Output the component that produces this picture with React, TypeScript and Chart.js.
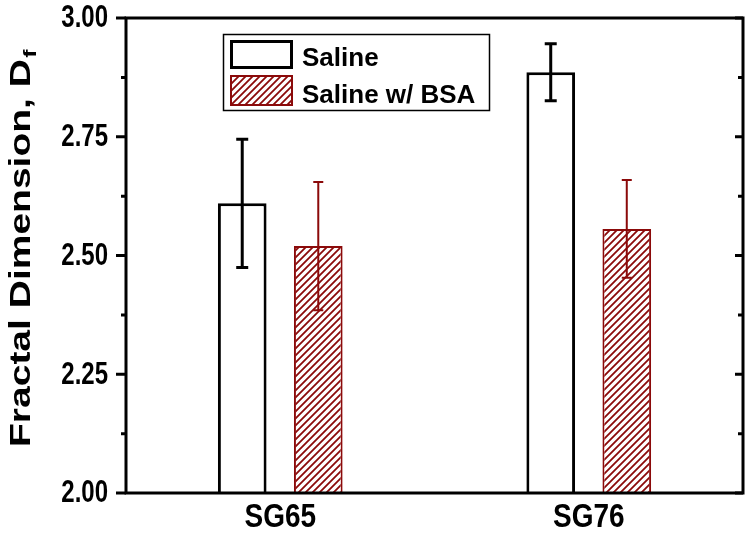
import React, { useEffect, useRef } from "react";
import { Chart, registerables } from "chart.js";

Chart.register(...registerables);

// ---- data ----
const categories = ["SG65", "SG76"];
const seriesNames = ["Saline", "Saline w/ BSA"];
const salineValues = [2.61, 2.886];
const salineErrors = [0.135, 0.06];
const bsaValues = [2.52, 2.556];
const bsaErrors = [0.135, 0.103];
const yTickValues = [2.0, 2.25, 2.5, 2.75, 3.0];
const yMinorValues = [2.125, 2.375, 2.625, 2.875];
const yTitleMain = "Fractal Dimension, D";
const yTitleSub = "f";

const FONT = "'Liberation Sans', Arial, Helvetica, sans-serif";
const RED = "#8b0a0a";

function makeHatch(): CanvasPattern | string {
  const s = 7;
  const c = document.createElement("canvas");
  c.width = s;
  c.height = s;
  const g = c.getContext("2d");
  if (!g) return "#fff";
  g.fillStyle = "#ffffff";
  g.fillRect(0, 0, s, s);
  g.strokeStyle = RED;
  g.lineWidth = 1.8;
  g.beginPath();
  g.moveTo(0, s);
  g.lineTo(s, 0);
  g.moveTo(-s / 2, s / 2);
  g.lineTo(s / 2, -s / 2);
  g.moveTo(s / 2, s * 1.5);
  g.lineTo(s * 1.5, s / 2);
  g.stroke();
  const p = g.createPattern(c, "repeat");
  return p || "#fff";
}

const errorBarPlugin = {
  id: "errorBars",
  afterDatasetsDraw(chart: any) {
    const ctx = chart.ctx;
    const yScale = chart.scales.y;
    chart.data.datasets.forEach((ds: any, di: number) => {
      const meta = chart.getDatasetMeta(di);
      meta.data.forEach((bar: any, i: number) => {
        const v = ds.data[i];
        const e = ds.errors[i];
        const x = bar.x;
        const yTop = yScale.getPixelForValue(v + e);
        const yBot = yScale.getPixelForValue(v - e);
        ctx.save();
        ctx.strokeStyle = ds.errColor;
        ctx.lineWidth = ds.errWidth;
        ctx.beginPath();
        ctx.moveTo(x, yTop);
        ctx.lineTo(x, yBot);
        ctx.moveTo(x - ds.capHalf, yTop);
        ctx.lineTo(x + ds.capHalf, yTop);
        ctx.moveTo(x - ds.capHalf, yBot);
        ctx.lineTo(x + ds.capHalf, yBot);
        ctx.stroke();
        ctx.restore();
      });
    });
  },
};

const framePlugin = {
  id: "frame",
  afterDraw(chart: any) {
    const ctx = chart.ctx;
    const { left, right, top, bottom } = chart.chartArea;
    const yScale = chart.scales.y;
    const xScale = chart.scales.x;
    ctx.save();
    ctx.strokeStyle = "#000";
    ctx.lineWidth = 3;
    ctx.strokeRect(left, top, right - left, bottom - top);
    ctx.beginPath();
    yTickValues.forEach((v) => {
      const y = yScale.getPixelForValue(v);
      ctx.moveTo(left - 10, y);
      ctx.lineTo(left, y);
      ctx.moveTo(right, y);
      ctx.lineTo(right - 8, y);
    });
    yMinorValues.forEach((v) => {
      const y = yScale.getPixelForValue(v);
      ctx.moveTo(left - 5, y);
      ctx.lineTo(left, y);
      ctx.moveTo(right, y);
      ctx.lineTo(right - 5, y);
    });
    ctx.stroke();
    ctx.restore();

    // tick labels (vertically stretched like the original export)
    ctx.save();
    ctx.fillStyle = "#000";
    ctx.font = `bold 24px ${FONT}`;
    ctx.textAlign = "right";
    ctx.textBaseline = "middle";
    yScale.ticks.forEach((t: any, i: number) => {
      const y = yScale.getPixelForTick(i);
      ctx.save();
      ctx.translate(left - 18, y + 1);
      ctx.scale(1, 1.28);
      ctx.fillText(Number(t.value).toFixed(2), 0, 0);
      ctx.restore();
    });
    ctx.font = `bold 28px ${FONT}`;
    ctx.textAlign = "center";
    ctx.textBaseline = "alphabetic";
    xScale.ticks.forEach((t: any, i: number) => {
      const x = xScale.getPixelForTick(i);
      ctx.save();
      ctx.translate(x, bottom + 34);
      ctx.scale(1, 1.2);
      ctx.fillText(String(chart.data.labels[i]), 0, 0);
      ctx.restore();
    });
    ctx.restore();

    // y-axis title with subscript, stretched along its length
    ctx.save();
    ctx.fillStyle = "#000";
    ctx.translate(30, 447);
    ctx.rotate(-Math.PI / 2);
    ctx.scale(1.3, 1);
    ctx.font = `bold 30px ${FONT}`;
    ctx.textAlign = "left";
    ctx.textBaseline = "alphabetic";
    ctx.fillText(yTitleMain, 0, 0);
    const w = ctx.measureText(yTitleMain).width;
    ctx.font = `bold 19px ${FONT}`;
    ctx.fillText(yTitleSub, w + 1, 6);
    ctx.restore();
  },
};

const legendPlugin = {
  id: "boxLegend",
  afterDraw(chart: any) {
    const ctx = chart.ctx;
    const ds = chart.data.datasets;
    ctx.save();
    ctx.strokeStyle = "#000";
    ctx.lineWidth = 1.5;
    ctx.strokeRect(223.5, 34.5, 266, 76);
    const rows = [
      { y: 40, h: 29 },
      { y: 75, h: 31 },
    ];
    rows.forEach((r, i) => {
      const d = ds[i];
      const bw = d.borderWidth;
      ctx.fillStyle = d.backgroundColor;
      ctx.fillRect(230, r.y, 63, r.h);
      ctx.strokeStyle = d.borderColor;
      ctx.lineWidth = bw;
      ctx.strokeRect(230 + bw / 2, r.y + bw / 2, 63 - bw, r.h - bw);
      ctx.fillStyle = "#000";
      ctx.font = `bold 26px ${FONT}`;
      ctx.textAlign = "left";
      ctx.textBaseline = "alphabetic";
      ctx.fillText(d.label, 302, r.y + r.h - 3);
    });
    ctx.restore();
  },
};

export default function App() {
  const ref = useRef<HTMLCanvasElement | null>(null);
  useEffect(() => {
    if (!ref.current) return;
    const hatch = makeHatch();
    const chart = new Chart(ref.current, {
      type: "bar",
      data: {
        labels: categories,
        datasets: [
          {
            label: seriesNames[0],
            data: salineValues,
            backgroundColor: "#ffffff",
            borderColor: "#000000",
            borderWidth: 3,
            categoryPercentage: 0.493,
            barPercentage: 0.64,
            errors: salineErrors,
            errColor: "#000000",
            errWidth: 3,
            capHalf: 6,
          } as any,
          {
            label: seriesNames[1],
            data: bsaValues,
            backgroundColor: hatch as any,
            borderColor: RED,
            borderWidth: 2,
            categoryPercentage: 0.493,
            barPercentage: 0.64,
            errors: bsaErrors,
            errColor: RED,
            errWidth: 2,
            capHalf: 5,
          } as any,
        ],
      },
      options: {
        animation: false,
        responsive: false,
        devicePixelRatio: 1,
        layout: { padding: { top: 18, right: 7, left: 0, bottom: 0 } },
        plugins: { legend: { display: false }, tooltip: { enabled: false } },
        scales: {
          x: {
            grid: { display: false, drawTicks: false },
            border: { display: false },
            ticks: {
              color: "rgba(0,0,0,0)",
              padding: 6,
              font: { family: FONT, weight: "bold", size: 28 },
            },
            afterFit: (s: any) => {
              s.height = 40;
              s.paddingLeft = 0;
              s.paddingRight = 0;
            },
          },
          y: {
            min: 2,
            max: 3,
            grid: { display: false, drawTicks: false },
            border: { display: false },
            afterBuildTicks: (s: any) => {
              s.ticks = yTickValues.map((v) => ({ value: v }));
            },
            ticks: {
              color: "rgba(0,0,0,0)",
              padding: 18,
              font: { family: FONT, weight: "bold", size: 24 },
              callback: (v: any) => Number(v).toFixed(2),
            },
            afterFit: (s: any) => {
              s.width = 126;
              s.paddingTop = 0;
              s.paddingBottom = 0;
            },
          },
        },
      } as any,
      plugins: [errorBarPlugin, framePlugin, legendPlugin],
    });
    return () => chart.destroy();
  }, []);
  return (
    <div style={{ position: "fixed", left: 0, top: 0, width: 750, height: 533, background: "#fff" }}>
      <canvas ref={ref} width={750} height={533} style={{ display: "block" }} />
    </div>
  );
}
